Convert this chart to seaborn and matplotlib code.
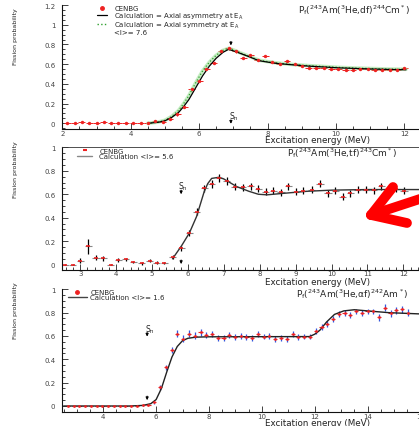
import numpy as np
import pandas as pd
import matplotlib
matplotlib.use("Agg")
import matplotlib.pyplot as plt
import seaborn as sns
from matplotlib.ticker import MultipleLocator, FuncFormatter
from matplotlib.lines import Line2D

# ---------------- data ----------------
# Panel 1 : Pf(243Am(3He,df)244Cm*)
e1 = [2.14, 2.36, 2.57, 2.79, 3.00, 3.21, 3.43, 3.64, 3.86, 4.07, 4.29, 4.50,
      4.71, 4.93, 5.14, 5.36, 5.57, 5.79, 6.00, 6.21, 6.43, 6.64, 6.86, 7.07,
      7.29, 7.50, 7.71, 7.93, 8.14, 8.36, 8.57, 8.79, 9.00, 9.21, 9.43, 9.64,
      9.86, 10.07, 10.29, 10.50, 10.71, 10.93, 11.14, 11.36, 11.57, 11.79, 12.00]
p1 = [0.0, 0.0, 0.01, 0.005, 0.005, 0.01, 0.005, 0.005, 0.0, 0.005, 0.0, 0.005,
      0.02, 0.015, 0.045, 0.09, 0.17, 0.35, 0.43, 0.55, 0.61, 0.73, 0.76, 0.73,
      0.66, 0.69, 0.64, 0.68, 0.62, 0.60, 0.63, 0.60, 0.58, 0.565, 0.56, 0.56,
      0.55, 0.55, 0.54, 0.54, 0.55, 0.55, 0.54, 0.54, 0.54, 0.545, 0.56]
calc1_e = [4.5, 4.8, 5.0, 5.2, 5.4, 5.55, 5.7, 5.9, 6.1, 6.3, 6.5, 6.7, 6.86,
           7.0, 7.2, 7.5, 7.75, 8.2, 8.6, 9.2, 9.6, 10.1, 10.6, 11.1, 11.6, 12.05]
asym1_p = [0.0, 0.01, 0.025, 0.06, 0.11, 0.17, 0.24, 0.36, 0.48, 0.58, 0.66, 0.72,
           0.75, 0.735, 0.71, 0.67, 0.635, 0.61, 0.597, 0.58, 0.572, 0.562, 0.556,
           0.55, 0.546, 0.543]
sym1_p = [0.0, 0.012, 0.03, 0.07, 0.13, 0.20, 0.28, 0.41, 0.53, 0.62, 0.69, 0.74,
          0.76, 0.745, 0.715, 0.675, 0.64, 0.615, 0.60, 0.585, 0.577, 0.567, 0.56,
          0.555, 0.55, 0.548]

# Panel 2 : Pf(243Am(3He,tf)243Cm*)
e2 = [2.57, 2.79, 3.00, 3.22, 3.44, 3.64, 3.85, 4.06, 4.27, 4.48, 4.71, 4.94,
      5.13, 5.34, 5.57, 5.81, 6.04, 6.24, 6.45, 6.66, 6.87, 7.08, 7.31, 7.53,
      7.75, 7.96, 8.17, 8.38, 8.59, 8.79, 9.00, 9.21, 9.45, 9.68, 9.90, 10.10,
      10.31, 10.52, 10.73, 10.96, 11.17, 11.38, 11.59, 11.80, 12.02]
p2 = [0.0, 0.0, 0.035, 0.155, 0.06, 0.055, 0.0, 0.04, 0.045, 0.025, 0.01, 0.035,
      0.017, 0.015, 0.065, 0.14, 0.27, 0.45, 0.65, 0.69, 0.74, 0.71, 0.665, 0.66,
      0.67, 0.645, 0.62, 0.63, 0.615, 0.67, 0.62, 0.63, 0.64, 0.69, 0.61, 0.63,
      0.58, 0.61, 0.64, 0.64, 0.635, 0.67, 0.64, 0.645, 0.63]
err2 = [0.005, 0.005, 0.02, 0.065, 0.02, 0.02, 0.005, 0.015, 0.015, 0.01, 0.01, 0.01,
        0.01, 0.01, 0.015, 0.02, 0.025, 0.03, 0.03, 0.035, 0.035, 0.035, 0.03, 0.03,
        0.03, 0.03, 0.03, 0.03, 0.03, 0.03, 0.03, 0.03, 0.03, 0.03, 0.03, 0.03,
        0.03, 0.03, 0.03, 0.03, 0.03, 0.03, 0.03, 0.03, 0.03]
calc2_e = [5.57, 5.82, 6.04, 6.24, 6.35, 6.45, 6.55, 6.66, 6.87, 7.0, 7.36, 7.7,
           7.96, 8.2, 8.56, 9.3, 10.0, 11.0, 12.0, 12.6]
calc2_p = [0.05, 0.16, 0.27, 0.41, 0.52, 0.62, 0.69, 0.735, 0.745, 0.73, 0.665,
           0.625, 0.60, 0.595, 0.605, 0.625, 0.635, 0.64, 0.64, 0.64]

# Panel 3 : Pf(243Am(3He,af)242Am*)
e3 = [2.66, 2.88, 3.10, 3.31, 3.53, 3.75, 3.97, 4.19, 4.40, 4.62, 4.84, 5.06,
      5.28, 5.50, 5.71, 5.93, 6.15, 6.37, 6.59, 6.80, 7.02, 7.24, 7.46, 7.68,
      7.90, 8.11, 8.33, 8.55, 8.77, 8.99, 9.20, 9.42, 9.64, 9.86, 10.08, 10.29,
      10.51, 10.73, 10.95, 11.17, 11.38, 11.60, 11.82, 12.04, 12.26, 12.47, 12.69,
      12.91, 13.13, 13.35, 13.56, 13.78, 14.00, 14.22, 14.44, 14.65, 14.87, 15.09,
      15.31, 15.52]
p3 = [0.0, 0.0, 0.0, 0.0, 0.0, 0.0, 0.0, 0.0, 0.0, 0.0, 0.0, 0.0,
      0.0, 0.005, 0.01, 0.03, 0.16, 0.33, 0.48, 0.62, 0.575, 0.62, 0.60, 0.63,
      0.61, 0.62, 0.58, 0.58, 0.61, 0.59, 0.60, 0.59, 0.58, 0.62, 0.595, 0.60,
      0.575, 0.58, 0.575, 0.62, 0.59, 0.595, 0.595, 0.645, 0.675, 0.70, 0.745,
      0.79, 0.80, 0.78, 0.81, 0.795, 0.81, 0.81, 0.76, 0.84, 0.795, 0.82,
      0.83, 0.80]
err3 = [0.0, 0.0, 0.0, 0.0, 0.0, 0.0, 0.0, 0.0, 0.0, 0.0, 0.0, 0.0,
        0.0, 0.003, 0.005, 0.01, 0.02, 0.025, 0.025, 0.03, 0.03, 0.03, 0.03, 0.03,
        0.025, 0.025, 0.025, 0.025, 0.025, 0.025, 0.025, 0.025, 0.025, 0.025, 0.025, 0.025,
        0.025, 0.025, 0.025, 0.025, 0.025, 0.025, 0.025, 0.025, 0.025, 0.025, 0.025,
        0.025, 0.025, 0.025, 0.025, 0.025, 0.025, 0.025, 0.03, 0.03, 0.03, 0.03,
        0.03, 0.03]
calc3_e = [2.5, 5.0, 5.5, 5.8, 6.0, 6.2, 6.4, 6.6, 6.8, 7.0, 7.2, 7.5, 8.0, 11.8,
           12.0, 12.2, 12.45, 12.75, 13.1, 13.5, 14.0, 14.8, 16.1]
calc3_p = [0.0, 0.0, 0.005, 0.02, 0.055, 0.15, 0.29, 0.42, 0.51, 0.56, 0.58, 0.59,
           0.593, 0.595, 0.615, 0.65, 0.72, 0.785, 0.815, 0.825, 0.815, 0.80, 0.788]

titles = ["P$_f$($^{243}$Am($^3$He,df)$^{244}$Cm$^*$)",
          "P$_f$($^{243}$Am($^3$He,tf)$^{243}$Cm$^*$)",
          "P$_f$($^{243}$Am($^3$He,$\\alpha$f)$^{242}$Am$^*$)"]
sn_energy = [6.93, 5.81, 5.66]

# ---------------- style ----------------
sns.set_theme(style="ticks")
plt.rcParams["font.family"] = ["DejaVu Sans"]
plt.rcParams["mathtext.default"] = "regular"

W, H = 419, 427
fig = plt.figure(figsize=(W / 100, H / 100), dpi=100)


def px_axes(left, top, right, bottom):
    return fig.add_axes([left / W, 1 - bottom / H, (right - left) / W, (bottom - top) / H])


ax1 = px_axes(62.3, 6, 421.4, 130)
ax2 = px_axes(62.3, 148.3, 421.3, 270.7)
ax3 = px_axes(62.3, 290.3, 421.7, 413.3)


def fmt(v, pos):
    if abs(v) < 1e-9:
        return "0"
    return f"{v:g}"


def style(ax, xlim, ylim, xmaj, xmin, top_spine=False):
    ax.set_xlim(*xlim)
    ax.set_ylim(*ylim)
    ax.xaxis.set_major_locator(MultipleLocator(xmaj))
    ax.xaxis.set_minor_locator(MultipleLocator(xmin))
    ax.yaxis.set_major_locator(MultipleLocator(0.2))
    ax.yaxis.set_minor_locator(MultipleLocator(0.05))
    ax.yaxis.set_major_formatter(FuncFormatter(fmt))
    ax.xaxis.set_major_formatter(FuncFormatter(fmt))
    ax.tick_params(which="both", direction="in", color="#222222", labelcolor="#444444",
                   width=0.6, top=False, right=False)
    ax.tick_params(which="major", length=4)
    ax.tick_params(which="minor", length=2)
    ax.tick_params(axis="x", labelsize=5, pad=0.5)
    ax.tick_params(axis="y", labelsize=5, pad=5)
    for s in ["left", "bottom"]:
        ax.spines[s].set_linewidth(0.8)
        ax.spines[s].set_color("#111111")
    ax.spines["right"].set_visible(False)
    ax.spines["top"].set_visible(top_spine)
    if top_spine:
        ax.spines["top"].set_linewidth(0.6)
        ax.spines["top"].set_color("#333333")
    ax.set_xlabel("")
    ax.set_ylabel("")
    ax.set_facecolor("white")


def down_arrow(ax, x, y_tip, length):
    ax.annotate("", xy=(x, y_tip), xytext=(x, y_tip + length),
                arrowprops=dict(arrowstyle="-|>", color="black", lw=0.7,
                                mutation_scale=4, shrinkA=0, shrinkB=0))


RED = "#ee2222"

# ---------------- panel 1 ----------------
ax1.errorbar(e1, p1, xerr=0.1, yerr=0.012, fmt="none", ecolor=RED, elinewidth=0.7)
df1 = pd.DataFrame({"E": calc1_e, "asym": asym1_p, "sym": sym1_p})
sns.lineplot(data=df1, x="E", y="sym", ax=ax1, color="#9fe09a", lw=2.6, alpha=0.6)
sns.lineplot(data=df1, x="E", y="sym", ax=ax1, color="#2fa02f", lw=0.9, ls=":")
sns.lineplot(data=df1, x="E", y="asym", ax=ax1, color="black", lw=0.9)
sns.scatterplot(x=e1, y=p1, ax=ax1, color=RED, marker="o", s=6, linewidth=0, zorder=5)
style(ax1, (2, 12.5), (-0.058, 1.2001), 2, 0.5)
down_arrow(ax1, sn_energy[0], 0.79, 0.04)
down_arrow(ax1, sn_energy[0], -0.005, 0.04)
ax1.text(sn_energy[0] + 0.08, 0.075, "S$_n$", fontsize=5.5, ha="center", va="center")
h1 = [Line2D([], [], ls="none", marker="o", color=RED, ms=2.5),
      Line2D([], [], color="black", lw=0.9),
      Line2D([], [], color="#2fa02f", lw=1.0, ls=":"),
      Line2D([], [], ls="none")]
l1 = ["CENBG", "Calculation = Axial asymmetry at E$_A$",
      "Calculation = Axial symmetry at E$_A$", "<l>= 7.6"]
ax1.legend(h1, l1, loc="upper left", bbox_to_anchor=(0.0966, 1.0), frameon=False,
           fontsize=5, labelspacing=-0.1, handlelength=1.5, handletextpad=1.0,
           borderpad=0, borderaxespad=0)

# ---------------- panel 2 ----------------
ax2.errorbar(e2, p2, xerr=0.1, fmt="none", ecolor="#888888", elinewidth=0.8)
ax2.errorbar(e2, p2, yerr=err2, fmt="none", ecolor="black", elinewidth=0.9)
df2 = pd.DataFrame({"E": calc2_e, "P": calc2_p})
sns.lineplot(data=df2, x="E", y="P", ax=ax2, color="#333333", lw=1.0)
sns.scatterplot(x=e2, y=p2, ax=ax2, color=RED, marker="_", s=10, linewidth=1.2, zorder=5)
style(ax2, (2.5, 12.5), (-0.043, 1.0001), 1, 0.2, top_spine=True)
down_arrow(ax2, sn_energy[1], 0.60, 0.035)
down_arrow(ax2, sn_energy[1], 0.005, 0.035)
ax2.text(sn_energy[1] + 0.05, 0.67, "S$_n$", fontsize=5.5, ha="center", va="center")
h2 = [Line2D([], [], ls="none", marker="_", color=RED, ms=3, mew=1.5),
      Line2D([], [], color="#888888", lw=1.0)]
l2 = ["CENBG", "Calculation <l>= 5.6"]
ax2.legend(h2, l2, loc="upper left", bbox_to_anchor=(0.041, 0.995), frameon=False,
           fontsize=5, labelspacing=-0.12, handlelength=2.2, handletextpad=1.0,
           borderpad=0, borderaxespad=0)

# ---------------- panel 3 ----------------
ax3.errorbar(e3, p3, xerr=0.08, fmt="none", ecolor=RED, elinewidth=0.8)
ax3.errorbar(e3, p3, yerr=err3, fmt="none", ecolor="#3355dd", elinewidth=0.9)
df3 = pd.DataFrame({"E": calc3_e, "P": calc3_p})
sns.lineplot(data=df3, x="E", y="P", ax=ax3, color="#222222", lw=1.0)
sns.scatterplot(x=e3, y=p3, ax=ax3, color=RED, marker="o", s=4, linewidth=0, zorder=5)
style(ax3, (2.45, 16.05), (-0.054, 1.0001), 2, 0.5)
down_arrow(ax3, sn_energy[2], 0.595, 0.035)
down_arrow(ax3, sn_energy[2], 0.05, 0.035)
ax3.text(sn_energy[2] + 0.1, 0.665, "S$_n$", fontsize=5.5, ha="center", va="center")
h3 = [Line2D([], [], ls="none", marker="o", color=RED, ms=2.5),
      Line2D([], [], color="#444444", lw=1.0)]
l3 = ["CENBG", "Calculation <l>= 1.6"]
ax3.legend(h3, l3, loc="upper left", bbox_to_anchor=(0.016, 1.0), frameon=False,
           fontsize=5, labelspacing=-0.12, handlelength=2.7, handletextpad=0.5,
           borderpad=0, borderaxespad=0)

# ---------------- figure-level text ----------------
title_pos = [(410, 10), (397, 152.7), (408, 294)]
for t, (x, y) in zip(titles, title_pos):
    fig.text(x / W, 1 - y / H, t, fontsize=6.5, ha="right", va="center")

xlabel_y = [140.5, 282.5, 423.5]
for y in xlabel_y:
    fig.text(265 / W, 1 - y / H, "Excitation energy (MeV)", fontsize=6.3,
             ha="left", va="center", color="#222222")

ylabel_y = [37, 170, 311]
for y in ylabel_y:
    fig.text(16 / W, 1 - y / H, "Fission probability", fontsize=4.5, rotation=90,
             ha="center", va="center", color="#222222")

# red pointer arrow drawn over panel 2
RW = 7
tip = (371, 216)
for end in [(432, 196), (393, 188), (407, 224)]:
    fig.add_artist(Line2D([tip[0] / W, end[0] / W], [1 - tip[1] / H, 1 - end[1] / H],
                          transform=fig.transFigure, color="#ff0000", lw=RW,
                          solid_capstyle="round", solid_joinstyle="round"))

fig.savefig("out.png", dpi=100, facecolor="white")
